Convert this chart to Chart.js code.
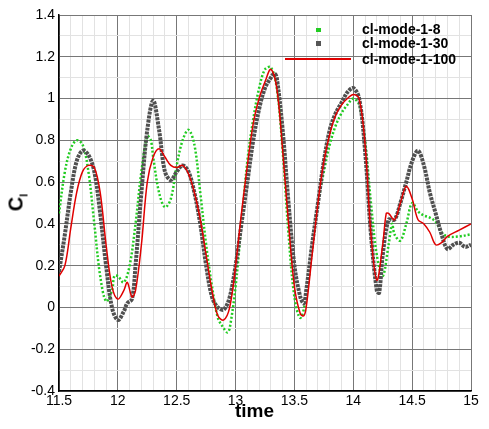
<!DOCTYPE html>
<html><head><meta charset="utf-8">
<script src="https://cdn.jsdelivr.net/npm/chart.js@4"></script>
<style>
body{margin:0;background:#fff;font-family:Arial,"Liberation Sans",sans-serif}
#wrap{position:relative;width:489px;height:429px}
.lg{position:absolute;font-weight:bold;font-size:14px;color:#000;line-height:14px}
</style></head><body>
<div id="wrap"><canvas id="c" width="489" height="429"></canvas>
<div class="lg" style="left:316px;top:25px;width:5px;height:4px;background:#22cc22;top:28px"></div>
<div class="lg" style="left:362px;top:22px">cl-mode-1-8</div>
<div class="lg" style="left:316px;top:41px;width:5px;height:5px;background:#555"></div>
<div class="lg" style="left:362px;top:36px">cl-mode-1-30</div>
<div class="lg" style="left:285px;top:58px;width:66px;height:2px;background:#e00000"></div>
<div class="lg" style="left:362px;top:52px">cl-mode-1-100</div>
<div style="position:absolute;left:2px;top:190px;transform:rotate(-90deg);transform-origin:center;font-weight:bold;font-size:20px;width:30px;text-align:center">C<sub style="font-size:11px">l</sub></div>
<div style="position:absolute;left:235px;top:400px;font-weight:bold;font-size:19px">time</div>
</div>
<script>
const t8=[11.5,11.55,11.6,11.65,11.7,11.75,11.8,11.85,11.9,11.95,11.97,12.0,12.05,12.1,12.15,12.2,12.25,12.28,12.3,12.35,12.4,12.45,12.5,12.55,12.6,12.65,12.7,12.75,12.8,12.85,12.9,12.93,12.95,13.0,13.05,13.1,13.15,13.2,13.25,13.3,13.35,13.4,13.45,13.5,13.55,13.6,13.65,13.7,13.75,13.8,13.85,13.9,13.95,14.0,14.05,14.1,14.15,14.2,14.25,14.3,14.33,14.35,14.4,14.45,14.5,14.55,14.6,14.65,14.7,14.75,14.8,14.9,15.0];
const cl8=[0.45,0.65,0.76,0.80,0.78,0.65,0.40,0.15,0.03,0.08,0.15,0.15,0.12,0.2,0.4,0.65,0.82,0.80,0.72,0.55,0.48,0.52,0.68,0.8,0.85,0.78,0.55,0.3,0.1,-0.05,-0.1,-0.12,-0.1,0.1,0.4,0.7,0.9,1.05,1.14,1.15,1.05,0.75,0.35,0.05,-0.05,0.05,0.3,0.5,0.65,0.78,0.87,0.93,0.97,1.0,0.97,0.8,0.5,0.25,0.15,0.3,0.4,0.35,0.32,0.4,0.5,0.46,0.44,0.43,0.41,0.36,0.34,0.34,0.35];
const t30=[11.5,11.55,11.6,11.65,11.7,11.75,11.8,11.85,11.9,11.95,12.0,12.05,12.08,12.12,12.15,12.2,12.25,12.3,12.35,12.4,12.45,12.5,12.55,12.6,12.65,12.7,12.75,12.8,12.85,12.9,12.95,13.0,13.05,13.1,13.15,13.2,13.25,13.3,13.33,13.35,13.4,13.45,13.5,13.55,13.58,13.6,13.65,13.7,13.75,13.8,13.85,13.9,13.95,14.0,14.05,14.1,14.15,14.2,14.22,14.25,14.3,14.35,14.4,14.45,14.5,14.55,14.6,14.65,14.7,14.75,14.8,14.85,14.9,14.95,15.0];
const cl30=[0.17,0.35,0.55,0.7,0.75,0.73,0.65,0.45,0.2,0.0,-0.06,-0.02,0.02,0.04,0.2,0.55,0.85,0.99,0.85,0.65,0.61,0.65,0.68,0.65,0.55,0.4,0.2,0.05,0.0,-0.01,0.05,0.2,0.4,0.6,0.8,0.95,1.05,1.1,1.12,1.1,0.85,0.5,0.2,0.05,0.02,0.08,0.3,0.5,0.7,0.85,0.93,0.98,1.03,1.05,1.0,0.75,0.35,0.08,0.07,0.25,0.42,0.42,0.5,0.6,0.7,0.75,0.68,0.55,0.45,0.35,0.28,0.3,0.31,0.29,0.3];
const t100=[11.5,11.55,11.6,11.65,11.7,11.75,11.8,11.85,11.9,11.95,12.0,12.05,12.08,12.12,12.15,12.2,12.25,12.3,12.35,12.4,12.45,12.5,12.55,12.6,12.65,12.7,12.75,12.8,12.85,12.9,12.95,13.0,13.05,13.1,13.15,13.2,13.25,13.3,13.35,13.4,13.45,13.5,13.55,13.58,13.6,13.65,13.7,13.75,13.8,13.85,13.9,13.95,14.0,14.05,14.1,14.15,14.2,14.25,14.28,14.3,14.35,14.4,14.45,14.5,14.55,14.6,14.65,14.7,14.75,14.8,14.9,15.0];
const cl100=[0.15,0.2,0.38,0.55,0.65,0.68,0.67,0.55,0.3,0.1,0.04,0.08,0.12,0.05,0.08,0.3,0.6,0.72,0.76,0.72,0.68,0.67,0.68,0.64,0.55,0.42,0.25,0.08,-0.04,-0.06,0.0,0.2,0.45,0.68,0.88,1.0,1.08,1.14,1.05,0.75,0.4,0.1,-0.03,-0.04,0.0,0.25,0.5,0.7,0.83,0.92,0.97,1.0,1.02,1.0,0.78,0.35,0.13,0.3,0.45,0.45,0.42,0.5,0.58,0.52,0.42,0.4,0.36,0.3,0.31,0.34,0.37,0.40];
const pts=(t,v)=>t.map((x,i)=>({x:x,y:v[i]}));
const isMul=(v,m)=>Math.abs(v/m-Math.round(v/m))<1e-6;
new Chart(document.getElementById('c'),{type:'line',
data:{datasets:[
{label:'cl-mode-1-100',data:pts(t100,cl100),borderColor:'#e00000',borderWidth:1.5,pointRadius:0,tension:0.35,order:0},
{label:'cl-mode-1-30',data:pts(t30,cl30),borderColor:'#505050',borderWidth:4,borderDash:[3,1],pointRadius:0,tension:0.35,order:1},
{label:'cl-mode-1-8',data:pts(t8,cl8),borderColor:'#22cc22',borderWidth:2.5,borderDash:[2,2],pointRadius:0,tension:0.35,order:2}
]},
options:{responsive:false,animation:false,layout:{padding:{left:0,right:18,top:15,bottom:0}},
plugins:{legend:{display:false},tooltip:{enabled:false}},
scales:{
x:{type:'linear',min:11.5,max:15,afterFit:s=>{s.height=38},
 ticks:{stepSize:0.1,autoSkip:false,maxRotation:0,color:'#000',font:{size:14,family:'Arial'},padding:2,callback:v=>isMul(v,0.5)?String(Math.round(v*10)/10):''},
 grid:{color:c=>isMul(c.tick.value,0.5)?'#777':'#e2e2e2',lineWidth:1,drawTicks:false},border:{color:'#000',width:1.5}},
y:{min:-0.4,max:1.4,afterFit:s=>{s.width=59},
 ticks:{stepSize:0.1,autoSkip:false,color:'#000',font:{size:14,family:'Arial'},padding:4,callback:v=>isMul(v,0.2)?String(Math.round(v*10)/10):''},
 grid:{color:c=>isMul(c.tick.value,0.2)?'#777':'#e2e2e2',lineWidth:1,drawTicks:false},border:{color:'#000',width:1.5}}
}}});
</script></body></html>
